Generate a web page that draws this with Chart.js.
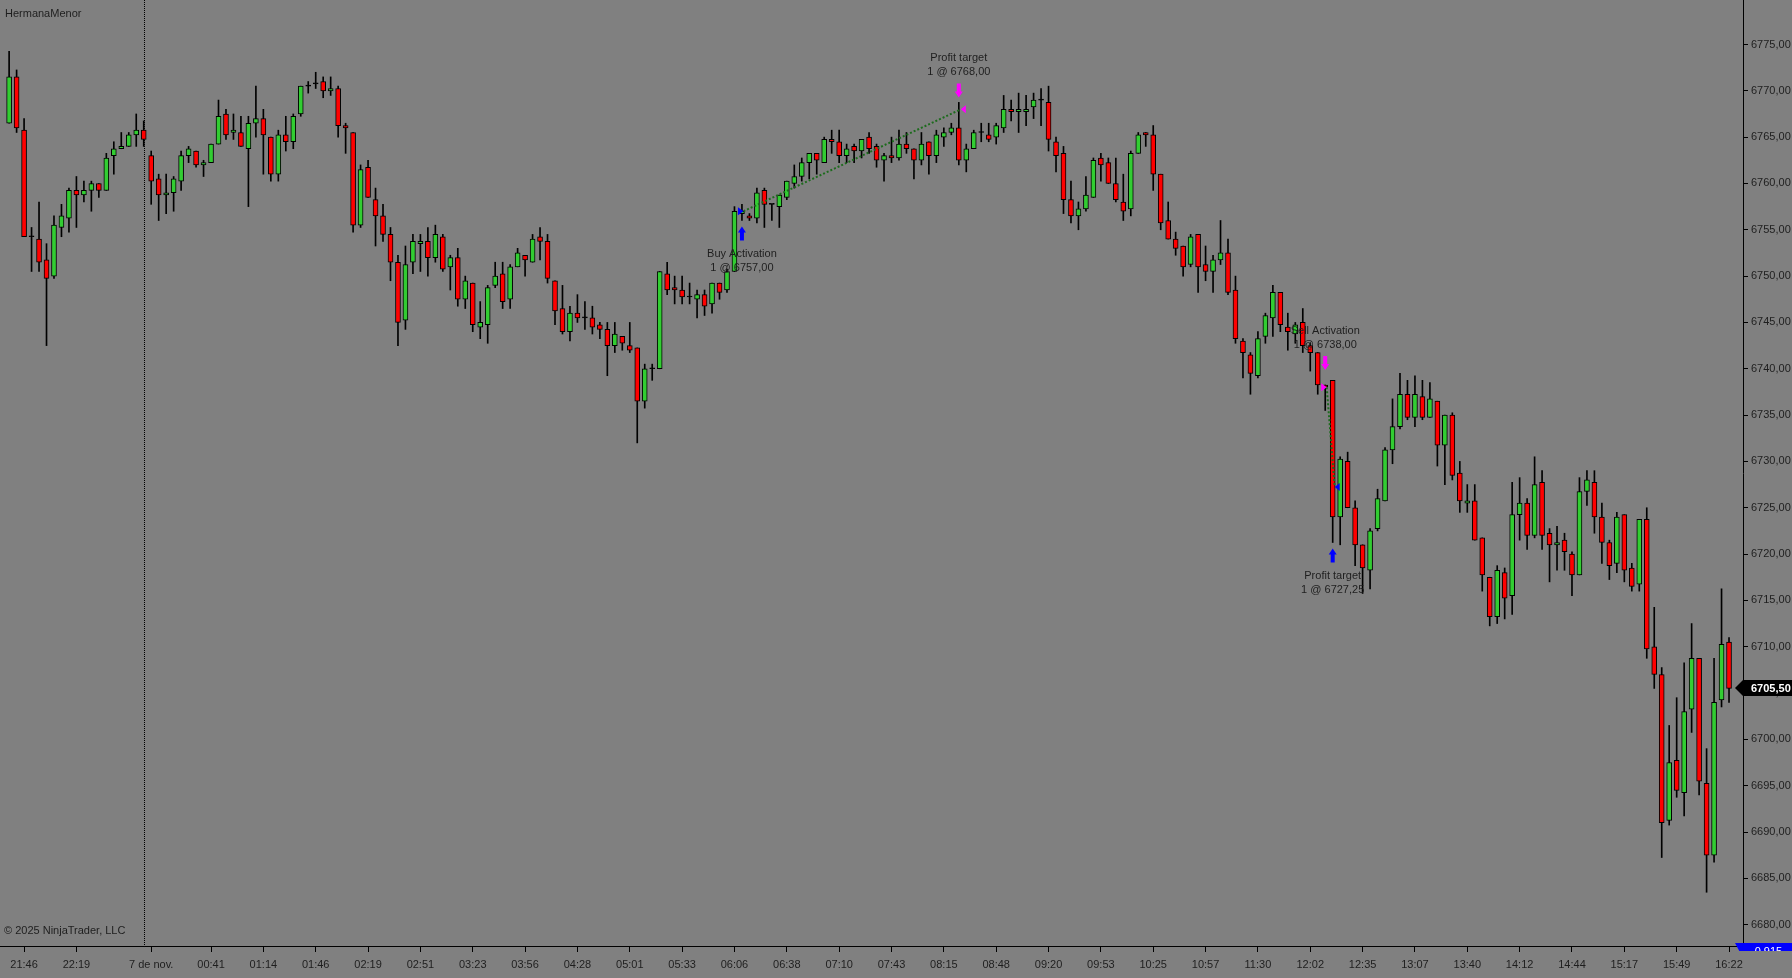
<!DOCTYPE html>
<html>
<head>
<meta charset="utf-8">
<title>HermanaMenor</title>
<script src="https://cdn.jsdelivr.net/npm/chart.js@4.4.1/dist/chart.umd.min.js"></script>
<style>
    html, body { margin: 0; padding: 0; background: #808080; overflow: hidden; }
    #wrap { position: relative; width: 1792px; height: 978px; }
</style>
</head>
<body>
<div id="wrap"><canvas id="priceChart"></canvas></div>
<script>
// ── Data ──────────────────────────────────────────────────────────────────────

const opens = [
    6766.5, 6771.5, 6765.75, 6754.25, 6754.0, 6751.75, 6750.0, 6755.25, 6756.25, 6759.25,
    6758.75, 6759.25, 6760.0, 6759.25, 6763.0, 6763.75, 6764.0, 6765.25, 6765.75, 6763.0,
    6760.5, 6758.75, 6759.0, 6760.25, 6763.0, 6763.5, 6762.0, 6762.25, 6764.25, 6767.5,
    6765.5, 6765.5, 6763.75, 6766.5, 6767.0, 6765.0, 6761.0, 6765.25, 6764.5, 6767.5,
    6770.5, 6770.75, 6771.0, 6770.0, 6770.25, 6766.25, 6765.5, 6755.5, 6761.75, 6758.25,
    6756.5, 6754.5, 6751.5, 6745.25, 6751.5, 6753.5, 6753.75, 6752.0, 6754.25, 6751.0,
    6752.0, 6747.5, 6749.25, 6744.5, 6744.75, 6749.0, 6750.25, 6747.5, 6751.0, 6752.25,
    6751.5, 6754.25, 6753.75, 6749.5, 6746.5, 6744.0, 6746.0, 6745.5, 6745.5, 6744.75,
    6744.25, 6742.5, 6743.5, 6742.5, 6742.25, 6736.5, 6740.0, 6740.0, 6750.25, 6748.75,
    6748.5, 6747.75, 6747.5, 6748.0, 6747.0, 6749.25, 6748.5, 6750.5, 6756.75, 6756.5,
    6756.25, 6759.25, 6757.75, 6757.5, 6758.5, 6760.0, 6760.75, 6762.25, 6763.25, 6762.25,
    6764.75, 6764.5, 6763.0, 6764.0, 6763.5, 6765.0, 6764.0, 6762.5, 6763.0, 6762.75,
    6764.25, 6763.75, 6762.5, 6764.5, 6763.0, 6765.0, 6765.5, 6766.0, 6762.5, 6763.75,
    6765.5, 6765.25, 6765.0, 6766.0, 6768.0, 6767.75, 6767.75, 6768.25, 6769.0, 6768.75,
    6764.5, 6763.25, 6758.25, 6756.5, 6757.25, 6758.5, 6762.75, 6762.25, 6760.0, 6758.0,
    6757.25, 6763.25, 6765.5, 6765.25, 6761.0, 6756.0, 6754.0, 6753.25, 6751.25, 6754.5,
    6751.25, 6750.5, 6751.75, 6752.5, 6748.5, 6743.0, 6741.5, 6739.25, 6743.5, 6745.5,
    6748.25, 6744.5, 6743.75, 6745.0, 6742.5, 6741.75, 6738.25, 6738.75, 6724.0, 6730.0,
    6725.0, 6721.0, 6718.25, 6722.75, 6725.75, 6731.25, 6733.75, 6737.25, 6734.75, 6737.0,
    6734.75, 6736.5, 6731.75, 6735.0, 6728.75, 6725.5, 6725.75, 6721.75, 6717.5, 6713.25,
    6718.0, 6715.5, 6724.25, 6725.5, 6722.0, 6727.75, 6722.25, 6721.0, 6721.5, 6720.0,
    6717.75, 6726.75, 6727.75, 6724.0, 6721.25, 6719.0, 6724.25, 6718.5, 6716.75, 6723.75,
    6710.0, 6707.0, 6691.25, 6697.75, 6694.25, 6703.25, 6708.75, 6695.25, 6687.5, 6704.25,
    6710.5,
];

const highs = [
    6774.25, 6772.25, 6767.0, 6755.25, 6758.0, 6753.5, 6756.5, 6757.75, 6759.5, 6760.75,
    6760.25, 6760.25, 6760.0, 6763.25, 6764.5, 6765.5, 6765.5, 6767.5, 6766.75, 6763.5,
    6761.0, 6761.0, 6760.75, 6763.5, 6764.0, 6763.5, 6762.5, 6764.25, 6769.0, 6768.0,
    6767.5, 6767.25, 6767.25, 6770.5, 6768.0, 6765.0, 6765.75, 6767.25, 6767.5, 6770.5,
    6771.0, 6772.0, 6771.5, 6771.5, 6770.5, 6766.5, 6765.5, 6762.0, 6762.5, 6759.5,
    6757.75, 6755.25, 6752.25, 6753.25, 6754.5, 6754.5, 6755.25, 6755.5, 6754.5, 6752.25,
    6753.0, 6750.0, 6749.25, 6747.25, 6749.0, 6751.5, 6751.5, 6751.25, 6753.0, 6752.25,
    6754.5, 6755.25, 6754.5, 6749.5, 6749.0, 6746.75, 6748.0, 6747.25, 6746.75, 6745.0,
    6745.0, 6745.0, 6743.5, 6745.0, 6742.25, 6740.5, 6740.5, 6750.5, 6751.5, 6750.0,
    6750.0, 6749.25, 6748.5, 6748.5, 6749.25, 6749.25, 6750.75, 6757.5, 6757.75, 6756.75,
    6759.5, 6759.5, 6757.75, 6758.75, 6760.25, 6762.0, 6762.75, 6763.25, 6763.25, 6765.0,
    6765.75, 6765.75, 6764.25, 6764.25, 6764.75, 6765.5, 6764.25, 6763.25, 6765.0, 6765.75,
    6765.5, 6763.75, 6765.5, 6764.5, 6765.75, 6766.0, 6766.5, 6768.75, 6764.25, 6765.75,
    6766.5, 6766.5, 6766.5, 6769.5, 6769.0, 6769.75, 6769.5, 6769.75, 6770.25, 6770.5,
    6765.0, 6764.0, 6760.25, 6758.0, 6760.75, 6762.75, 6763.25, 6762.75, 6762.75, 6761.0,
    6763.5, 6765.5, 6765.5, 6766.25, 6761.0, 6758.0, 6754.75, 6753.25, 6754.5, 6754.5,
    6753.25, 6752.25, 6756.0, 6754.0, 6750.0, 6743.25, 6741.75, 6744.0, 6746.0, 6749.0,
    6748.25, 6746.0, 6745.0, 6746.5, 6742.75, 6741.75, 6738.25, 6738.75, 6730.5, 6731.0,
    6725.75, 6721.0, 6722.75, 6727.0, 6731.5, 6736.75, 6739.5, 6738.75, 6739.25, 6738.75,
    6738.5, 6736.5, 6735.0, 6735.25, 6730.0, 6727.5, 6727.5, 6721.75, 6717.5, 6718.75,
    6718.5, 6727.75, 6728.25, 6726.0, 6730.5, 6729.0, 6722.75, 6723.0, 6722.25, 6720.25,
    6728.25, 6729.0, 6729.0, 6725.5, 6721.5, 6724.5, 6724.25, 6719.0, 6723.75, 6725.0,
    6714.25, 6707.75, 6701.5, 6704.5, 6708.25, 6712.5, 6708.75, 6699.0, 6708.75, 6716.25,
    6711.0,
];

const lows = [
    6766.5, 6765.5, 6754.25, 6750.5, 6750.5, 6742.5, 6749.75, 6754.25, 6754.75, 6755.25,
    6758.0, 6757.0, 6758.5, 6759.25, 6761.0, 6763.75, 6764.0, 6764.0, 6764.0, 6757.75,
    6756.0, 6756.75, 6757.0, 6759.25, 6762.25, 6761.75, 6760.75, 6762.25, 6764.25, 6764.75,
    6764.75, 6764.0, 6757.5, 6765.0, 6761.0, 6760.25, 6760.25, 6763.5, 6763.75, 6767.25,
    6769.75, 6770.25, 6769.25, 6769.5, 6765.0, 6763.25, 6754.75, 6755.25, 6758.5, 6753.25,
    6753.75, 6749.5, 6742.5, 6744.25, 6750.25, 6750.5, 6750.0, 6751.5, 6750.5, 6748.5,
    6746.75, 6746.5, 6744.0, 6743.25, 6742.75, 6748.75, 6746.5, 6746.5, 6751.0, 6750.0,
    6751.5, 6751.75, 6749.25, 6744.75, 6743.75, 6743.0, 6745.0, 6744.25, 6743.75, 6743.25,
    6739.25, 6741.75, 6742.0, 6741.75, 6732.0, 6735.75, 6738.75, 6740.0, 6748.0, 6747.0,
    6747.0, 6747.0, 6745.5, 6745.75, 6746.0, 6747.5, 6748.25, 6750.5, 6756.0, 6756.0,
    6755.75, 6755.25, 6756.0, 6755.25, 6758.25, 6759.5, 6760.25, 6760.5, 6761.0, 6762.25,
    6763.25, 6762.25, 6762.25, 6762.25, 6762.75, 6763.25, 6761.75, 6760.25, 6762.25, 6762.5,
    6763.25, 6760.5, 6762.0, 6761.0, 6762.25, 6764.0, 6765.25, 6762.0, 6761.25, 6763.75,
    6764.5, 6764.5, 6764.25, 6765.5, 6766.75, 6765.5, 6766.25, 6767.0, 6766.25, 6763.5,
    6761.25, 6756.75, 6755.75, 6755.0, 6757.0, 6758.5, 6760.25, 6760.0, 6758.0, 6756.0,
    6756.5, 6763.25, 6764.0, 6759.25, 6755.0, 6754.0, 6752.25, 6750.0, 6751.0, 6748.25,
    6749.5, 6748.25, 6751.25, 6748.0, 6742.75, 6739.0, 6737.25, 6739.0, 6742.75, 6743.5,
    6744.0, 6742.0, 6742.75, 6741.75, 6739.75, 6737.25, 6735.5, 6721.25, 6721.0, 6725.0,
    6718.75, 6715.75, 6716.25, 6722.5, 6725.75, 6729.75, 6733.5, 6734.5, 6733.75, 6734.5,
    6734.75, 6729.5, 6727.5, 6728.0, 6724.5, 6724.5, 6721.5, 6716.0, 6712.25, 6712.5,
    6713.0, 6713.5, 6721.5, 6720.5, 6721.75, 6720.5, 6717.0, 6718.25, 6718.25, 6715.5,
    6717.75, 6725.25, 6722.25, 6719.0, 6717.25, 6718.0, 6717.0, 6716.0, 6716.0, 6708.75,
    6705.5, 6687.25, 6690.75, 6693.75, 6691.75, 6700.75, 6694.0, 6683.5, 6686.75, 6703.5,
    6704.0,
];

const closes = [
    6771.5, 6766.0, 6754.25, 6754.25, 6751.5, 6749.75, 6755.5, 6756.5, 6759.25, 6758.75,
    6759.25, 6760.0, 6759.25, 6762.75, 6763.75, 6764.0, 6765.25, 6765.75, 6764.75, 6760.25,
    6758.75, 6759.0, 6760.5, 6763.0, 6763.75, 6762.0, 6762.25, 6764.25, 6767.25, 6765.25,
    6765.75, 6764.0, 6766.5, 6767.0, 6765.25, 6761.0, 6765.25, 6764.5, 6767.25, 6770.5,
    6770.5, 6770.75, 6770.0, 6770.25, 6766.25, 6766.0, 6755.5, 6761.5, 6758.5, 6756.5,
    6754.5, 6751.5, 6745.0, 6751.25, 6753.75, 6753.75, 6752.0, 6754.5, 6750.75, 6752.0,
    6747.5, 6749.5, 6744.75, 6745.0, 6748.75, 6750.0, 6747.25, 6751.0, 6752.5, 6751.75,
    6754.0, 6753.75, 6749.75, 6746.25, 6744.0, 6746.0, 6745.5, 6745.5, 6744.5, 6744.25,
    6742.5, 6743.75, 6742.75, 6742.0, 6736.5, 6740.0, 6740.0, 6750.5, 6748.5, 6748.5,
    6747.75, 6747.75, 6748.0, 6746.75, 6749.25, 6748.25, 6750.5, 6757.0, 6757.0, 6756.25,
    6759.0, 6757.75, 6757.75, 6758.75, 6760.25, 6760.75, 6762.25, 6763.25, 6762.5, 6764.75,
    6764.5, 6763.0, 6763.75, 6763.5, 6764.75, 6763.75, 6762.5, 6763.0, 6762.75, 6764.25,
    6763.75, 6762.5, 6764.25, 6763.0, 6765.25, 6765.5, 6766.0, 6762.5, 6763.75, 6765.5,
    6765.5, 6764.75, 6766.25, 6768.0, 6767.75, 6768.0, 6768.0, 6769.0, 6769.0, 6764.75,
    6763.0, 6758.25, 6756.5, 6757.25, 6758.75, 6762.5, 6762.0, 6760.0, 6758.25, 6757.0,
    6763.25, 6765.25, 6765.25, 6761.0, 6755.75, 6754.0, 6753.0, 6751.0, 6754.25, 6751.0,
    6750.5, 6751.75, 6752.5, 6748.25, 6743.25, 6741.75, 6739.5, 6743.25, 6745.75, 6748.25,
    6744.75, 6744.0, 6744.75, 6742.5, 6741.75, 6738.25, 6738.0, 6724.0, 6730.25, 6725.0,
    6721.0, 6718.5, 6722.5, 6726.0, 6731.25, 6733.75, 6737.25, 6734.75, 6737.25, 6734.75,
    6736.75, 6731.75, 6735.0, 6728.5, 6725.75, 6725.75, 6721.5, 6717.75, 6713.25, 6718.25,
    6715.25, 6724.25, 6725.5, 6722.0, 6727.5, 6722.0, 6721.0, 6721.25, 6720.25, 6717.75,
    6726.75, 6728.0, 6724.0, 6721.25, 6718.75, 6724.0, 6718.25, 6716.5, 6723.75, 6709.75,
    6707.0, 6691.0, 6697.5, 6694.5, 6703.0, 6708.75, 6695.5, 6687.5, 6704.0, 6710.25,
    6705.5,
];

// Time axis: bar index of each label and the label text
const tickBars = [
    2, 9, 19, 27, 34, 41, 48, 55, 62, 69, 76, 83, 90, 97, 104, 111, 118,
    125, 132, 139, 146, 153, 160, 167, 174, 181, 188, 195, 202, 209, 216, 223, 230,
];
const tickLabels = [
    '21:46', '22:19', '7 de nov.', '00:41', '01:14', '01:46', '02:19', '02:51', '03:23',
    '03:56', '04:28', '05:01', '05:33', '06:06', '06:38', '07:10', '07:43', '08:15',
    '08:48', '09:20', '09:53', '10:25', '10:57', '11:30', '12:02', '12:35', '13:07',
    '13:40', '14:12', '14:44', '15:17', '15:49', '16:22',
];

// Price axis labels
const priceTicks = [
    6680, 6685, 6690, 6695, 6700, 6705, 6710, 6715, 6720, 6725,
    6730, 6735, 6740, 6745, 6750, 6755, 6760, 6765, 6770, 6775,
];

const sessionBreakBar = 18;

// Executions (strategy fills)
const fillBars   = [98, 127, 176, 177];
const fillPrices = [6757.00, 6768.00, 6738.00, 6727.25];
const fillSides  = ['buy', 'sell', 'sell', 'buy'];
const fillTypes  = ['entry', 'exit', 'entry', 'exit'];
const fillNames  = ['Buy Activation', 'Profit target', 'Sell Activation', 'Profit target'];

const oscValue = -0.915;

// ── Theme ─────────────────────────────────────────────────────────────────────

const FONT = 'Liberation Sans';
const TEXT_COLOR = '#1e1e1e';
const UP_COLOR = '#32CD32';
const DOWN_COLOR = '#FF0000';
const BUY_COLOR = '#0000FF';
const SELL_COLOR = '#FF00FF';
const TRADE_LINE = '#1d6b1d';
const ARROW_GAP = [6, 5, 15, 6];

const fmtPrice = (v) => v.toFixed(2).replace('.', ',');

// ── Candles as two floating-bar datasets ─────────────────────────────────────

const barIdx = opens.map((_, i) => i);
const bodyData = barIdx.map((i) => ({ x: i, y: [opens[i], closes[i]] }));
const wickData = barIdx.map((i) => ({ x: i, y: [lows[i], highs[i]] }));
const bodyColors = barIdx.map((i) =>
    closes[i] > opens[i] ? UP_COLOR : closes[i] < opens[i] ? DOWN_COLOR : '#000'
);

// ── Overlay: session line, executions, labels ───────────────────────────────

/**
 * Small block arrow, tip at (cx, tipY). dir = 1 points up (body below),
 * dir = -1 points down (body above).
 */
function drawArrow(ctx, cx, tipY, dir, color) {
    ctx.fillStyle = color;
    ctx.beginPath();
    ctx.moveTo(cx, tipY);
    ctx.lineTo(cx + 4, tipY + dir * 6);
    ctx.lineTo(cx + 2, tipY + dir * 6);
    ctx.lineTo(cx + 2, tipY + dir * 14);
    ctx.lineTo(cx - 2, tipY + dir * 14);
    ctx.lineTo(cx - 2, tipY + dir * 6);
    ctx.lineTo(cx - 4, tipY + dir * 6);
    ctx.closePath();
    ctx.fill();
}

function fillTip(cx, type) {
    return type === 'entry' ? cx + 1.5 : cx + 2;
}

const overlay = {
    id: 'overlay',

    beforeDatasetsDraw(chart) {
        const { ctx, chartArea, scales: { x } } = chart;
        const sx = Math.round(x.getPixelForValue(sessionBreakBar)) + 0.5;
        ctx.save();
        ctx.strokeStyle = '#000';
        ctx.lineWidth = 1;
        ctx.setLineDash([1, 1]);
        ctx.beginPath();
        ctx.moveTo(sx, chartArea.top);
        ctx.lineTo(sx, chartArea.bottom);
        ctx.stroke();
        ctx.restore();
    },

    afterDatasetsDraw(chart) {
        const { ctx, scales: { x, y } } = chart;
        ctx.save();

        // Trade connection lines (entry -> exit)
        ctx.strokeStyle = TRADE_LINE;
        ctx.lineWidth = 2;
        ctx.setLineDash([2, 2]);
        for (let k = 0; k < fillBars.length; k += 2) {
            const x0 = fillTip(x.getPixelForValue(fillBars[k]), fillTypes[k]);
            const x1 = fillTip(x.getPixelForValue(fillBars[k + 1]), fillTypes[k + 1]);
            ctx.beginPath();
            ctx.moveTo(x0, y.getPixelForValue(fillPrices[k]));
            ctx.lineTo(x1, y.getPixelForValue(fillPrices[k + 1]));
            ctx.stroke();
        }
        ctx.setLineDash([]);

        ctx.font = `11px "${FONT}"`;
        ctx.textAlign = 'center';
        ctx.textBaseline = 'middle';

        fillBars.forEach((bar, k) => {
            const cx = x.getPixelForValue(bar);
            const py = y.getPixelForValue(fillPrices[k]);
            const isBuy = fillSides[k] === 'buy';
            const color = isBuy ? BUY_COLOR : SELL_COLOR;

            // Execution triangle
            ctx.fillStyle = color;
            ctx.beginPath();
            if (fillTypes[k] === 'entry') {
                ctx.moveTo(cx + 1.5, py);
                ctx.lineTo(cx - 4, py - 4);
                ctx.lineTo(cx - 4, py + 4);
            } else {
                ctx.moveTo(cx + 2, py);
                ctx.lineTo(cx + 7, py - 4);
                ctx.lineTo(cx + 7, py + 4);
            }
            ctx.closePath();
            ctx.fill();

            // Arrow + text
            const line2 = `1 @ ${fmtPrice(fillPrices[k])}`;
            if (isBuy) {
                const tip = y.getPixelForValue(lows[bar]) + ARROW_GAP[k];
                drawArrow(ctx, cx, tip, 1, color);
                ctx.fillStyle = TEXT_COLOR;
                ctx.fillText(fillNames[k], cx, tip + 14 + 13.5);
                ctx.fillText(line2, cx, tip + 14 + 27.5);
            } else {
                const tip = y.getPixelForValue(highs[bar]) - ARROW_GAP[k];
                drawArrow(ctx, cx, tip, -1, color);
                ctx.fillStyle = TEXT_COLOR;
                ctx.fillText(line2, cx, tip - 14 - 11);
                ctx.fillText(fillNames[k], cx, tip - 14 - 25);
            }
        });
        ctx.restore();
    },

    afterDraw(chart) {
        const { ctx, chartArea, scales: { y } } = chart;
        const last = closes.length - 1;
        const ax = y.left;
        ctx.save();

        // Chart name + copyright
        ctx.font = `11px "${FONT}"`;
        ctx.fillStyle = TEXT_COLOR;
        ctx.textAlign = 'left';
        ctx.textBaseline = 'middle';
        ctx.fillText('HermanaMenor', 5, 14);
        ctx.fillText('© 2025 NinjaTrader, LLC', 4, 931);

        // Last price marker on the price axis
        const ly = Math.round(y.getPixelForValue(closes[last]));
        ctx.fillStyle = '#000';
        ctx.beginPath();
        ctx.moveTo(ax - 8, ly);
        ctx.lineTo(ax, ly - 8);
        ctx.lineTo(chart.width, ly - 8);
        ctx.lineTo(chart.width, ly + 8);
        ctx.lineTo(ax, ly + 8);
        ctx.closePath();
        ctx.fill();
        ctx.fillStyle = '#fff';
        ctx.font = `bold 11px "${FONT}"`;
        ctx.fillText(fmtPrice(closes[last]), ax + 8, ly + 0.5);

        // Indicator value marker, cut off at the bottom
        const by = chartArea.bottom;
        ctx.beginPath();
        ctx.rect(ax - 10, by - 6, chart.width, 11);
        ctx.clip();
        ctx.fillStyle = BUY_COLOR;
        ctx.beginPath();
        ctx.moveTo(ax - 8, by - 3);
        ctx.lineTo(chart.width, by - 3);
        ctx.lineTo(chart.width, by + 12);
        ctx.lineTo(ax, by + 12);
        ctx.closePath();
        ctx.fill();
        ctx.fillStyle = '#fff';
        ctx.font = `11px "${FONT}"`;
        ctx.fillText(oscValue.toFixed(3).replace('.', ','), ax + 8, by + 6);

        ctx.restore();
    },
};

// ── Chart ─────────────────────────────────────────────────────────────────────

new Chart(document.getElementById('priceChart'), {
    type: 'bar',
    data: {
        datasets: [
            {
                label: 'Body',
                data: bodyData,
                backgroundColor: bodyColors,
                borderColor: '#000',
                borderWidth: 1,
                borderSkipped: false,
                barThickness: 5,
                minBarLength: 1,
                grouped: false,
            },
            {
                label: 'Wick',
                data: wickData,
                backgroundColor: '#000',
                borderWidth: 0,
                barThickness: 1,
                grouped: false,
            },
        ],
    },
    options: {
        responsive: true,
        maintainAspectRatio: false,
        animation: false,
        events: [],
        layout: { padding: 0 },
        plugins: {
            legend: { display: false },
            tooltip: { enabled: false },
        },
        scales: {
            x: {
                type: 'linear',
                min: -1.22,
                max: 231.87,
                offset: false,
                grid: {
                    drawOnChartArea: false,
                    drawTicks: true,
                    tickLength: 6,
                    color: '#000',
                    offset: false,
                },
                border: { display: true, color: '#000' },
                ticks: {
                    autoSkip: false,
                    maxRotation: 0,
                    padding: 6,
                    color: TEXT_COLOR,
                    font: { family: FONT, size: 11 },
                    callback: (v) => tickLabels[tickBars.indexOf(v)] ?? '',
                },
                afterBuildTicks: (s) => { s.ticks = tickBars.map((v) => ({ value: v })); },
                afterFit: (s) => { s.height = 32; s.paddingLeft = 0; s.paddingRight = 0; },
            },
            y: {
                position: 'right',
                min: 6677.7,
                max: 6779.8,
                grid: {
                    drawOnChartArea: false,
                    drawTicks: true,
                    tickLength: 5,
                    color: '#000',
                },
                border: { display: true, color: '#000' },
                ticks: {
                    autoSkip: false,
                    padding: 3,
                    color: TEXT_COLOR,
                    font: { family: FONT, size: 11 },
                    callback: (v) => fmtPrice(v),
                },
                afterBuildTicks: (s) => { s.ticks = priceTicks.map((v) => ({ value: v })); },
                afterFit: (s) => { s.width = 49; s.paddingTop = 0; s.paddingBottom = 0; },
            },
        },
    },
    plugins: [overlay],
});
</script>
</body>
</html>
